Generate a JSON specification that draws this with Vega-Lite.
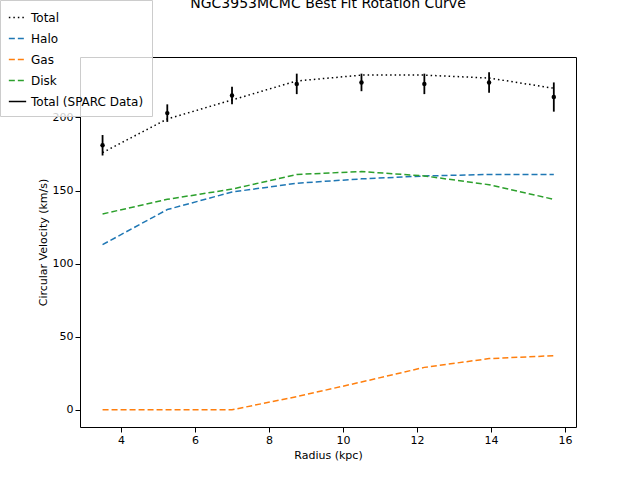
{
  "$schema": "https://vega.github.io/schema/vega-lite/v6.json",
  "width": 496,
  "height": 370,
  "autosize": "none",
  "padding": {"left": 80, "top": 57, "right": 64, "bottom": 53},
  "title": {"text": "NGC3953MCMC Best Fit Rotation Curve", "fontSize": 14, "font": "DejaVu Sans", "fontWeight": "normal", "offset": -22, "baseline": "alphabetic"},
  "datasets": {
    "curves": [
      {"r": 3.5, "s": "Total", "v": 176}, {"r": 5.25, "s": "Total", "v": 199}, {"r": 7.0, "s": "Total", "v": 212}, {"r": 8.75, "s": "Total", "v": 225},
      {"r": 10.5, "s": "Total", "v": 229}, {"r": 12.2, "s": "Total", "v": 229}, {"r": 13.95, "s": "Total", "v": 227}, {"r": 15.7, "s": "Total", "v": 220},
      {"r": 3.5, "s": "Halo", "v": 113}, {"r": 5.25, "s": "Halo", "v": 137}, {"r": 7.0, "s": "Halo", "v": 149}, {"r": 8.75, "s": "Halo", "v": 155},
      {"r": 10.5, "s": "Halo", "v": 158}, {"r": 12.2, "s": "Halo", "v": 160}, {"r": 13.95, "s": "Halo", "v": 161}, {"r": 15.7, "s": "Halo", "v": 161},
      {"r": 3.5, "s": "Gas", "v": 0}, {"r": 5.25, "s": "Gas", "v": 0}, {"r": 7.0, "s": "Gas", "v": 0}, {"r": 8.75, "s": "Gas", "v": 9},
      {"r": 10.5, "s": "Gas", "v": 19}, {"r": 12.2, "s": "Gas", "v": 29}, {"r": 13.95, "s": "Gas", "v": 35}, {"r": 15.7, "s": "Gas", "v": 37},
      {"r": 3.5, "s": "Disk", "v": 134}, {"r": 5.25, "s": "Disk", "v": 144}, {"r": 7.0, "s": "Disk", "v": 151}, {"r": 8.75, "s": "Disk", "v": 161},
      {"r": 10.5, "s": "Disk", "v": 163}, {"r": 12.2, "s": "Disk", "v": 160}, {"r": 13.95, "s": "Disk", "v": 154}, {"r": 15.7, "s": "Disk", "v": 144}
    ],
    "obs": [
      {"r": 3.5, "s": "Total (SPARC Data)", "v": 181, "lo": 174, "hi": 188},
      {"r": 5.25, "s": "Total (SPARC Data)", "v": 203, "lo": 197, "hi": 209},
      {"r": 7.0, "s": "Total (SPARC Data)", "v": 215, "lo": 209, "hi": 221},
      {"r": 8.75, "s": "Total (SPARC Data)", "v": 223, "lo": 216, "hi": 230},
      {"r": 10.5, "s": "Total (SPARC Data)", "v": 224, "lo": 218, "hi": 230},
      {"r": 12.2, "s": "Total (SPARC Data)", "v": 223, "lo": 216, "hi": 230},
      {"r": 13.95, "s": "Total (SPARC Data)", "v": 224, "lo": 217, "hi": 231},
      {"r": 15.7, "s": "Total (SPARC Data)", "v": 214, "lo": 204, "hi": 224}
    ]
  },
  "layer": [
    {
      "data": {"name": "curves"},
      "mark": {"type": "line", "strokeWidth": 1.5},
      "encoding": {
        "x": {"field": "r", "type": "quantitative", "scale": {"domain": [2.89, 16.3], "nice": false, "zero": false}, "axis": {"title": "Radius (kpc)", "values": [4, 6, 8, 10, 12, 14, 16]}},
        "y": {"field": "v", "type": "quantitative", "scale": {"domain": [-11.8, 241.4], "nice": false}, "axis": {"title": "Circular Velocity (km/s)", "values": [0, 50, 100, 150, 200]}},
        "color": {"field": "s", "type": "nominal", "sort": ["Total", "Halo", "Gas", "Disk", "Total (SPARC Data)"],
          "scale": {"domain": ["Total", "Halo", "Gas", "Disk", "Total (SPARC Data)"], "range": ["black", "#1f77b4", "#ff7f0e", "#2ca02c", "black"]},
          "legend": {"title": null, "orient": "none", "legendX": -80, "legendY": -57, "fillColor": "rgba(255,255,255,0.8)", "strokeColor": "#cccccc", "padding": 8, "labelFontSize": 12, "symbolType": "stroke", "symbolSize": 300, "rowPadding": 5, "labelFont": "DejaVu Sans", "zindex": 0}},
        "strokeDash": {"field": "s", "type": "nominal",
          "scale": {"domain": ["Total", "Halo", "Gas", "Disk", "Total (SPARC Data)"], "range": [[1.5, 3], [6, 3], [6, 3], [6, 3], [1, 0]]},
          "legend": null}
      }
    },
    {
      "data": {"name": "obs"},
      "mark": {"type": "rule", "strokeWidth": 1.8, "color": "black"},
      "encoding": {"x": {"field": "r", "type": "quantitative"}, "y": {"field": "lo", "type": "quantitative"}, "y2": {"field": "hi"}}
    },
    {
      "data": {"name": "obs"},
      "mark": {"type": "point", "filled": true, "size": 20, "opacity": 1},
      "encoding": {"x": {"field": "r", "type": "quantitative"}, "y": {"field": "v", "type": "quantitative"}, "color": {"field": "s", "type": "nominal"}}
    }
  ],
  "config": {
    "font": "DejaVu Sans",
    "view": {"stroke": "black"},
    "axis": {"grid": false, "domain": false, "tickColor": "black", "labelColor": "black", "titleColor": "black", "labelFontSize": 11, "titleFontSize": 11, "titleFontWeight": "normal", "labelFont": "DejaVu Sans", "titleFont": "DejaVu Sans"}
  }
}
